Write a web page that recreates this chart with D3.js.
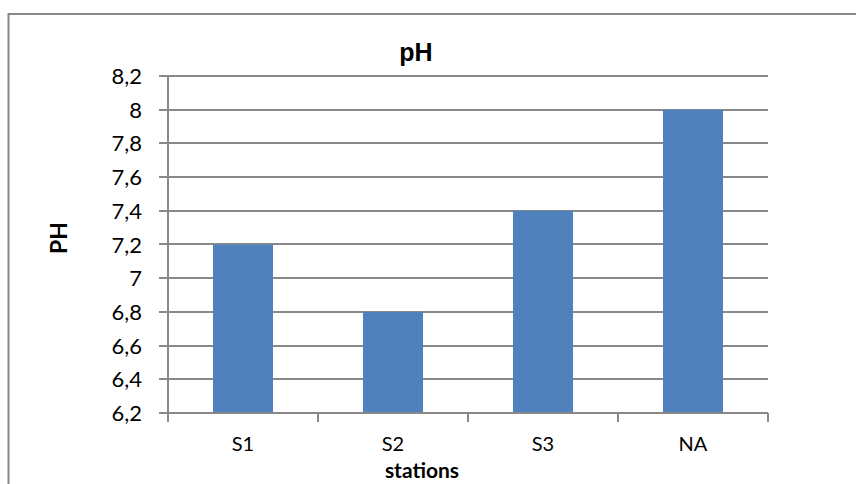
<!DOCTYPE html>
<html><head><meta charset="utf-8">
<script src="https://cdn.jsdelivr.net/npm/d3@7"></script>
<style>body{margin:0;background:#fff}svg{display:block}text{font-family:Lato,"Open Sans",sans-serif}</style>
</head><body><svg id="c" width="856" height="484"></svg>
<script>
const categories = ["S1","S2","S3","NA"];
const values = [7.2, 6.8, 7.4, 8.0];
const yTicks = [6.2,6.4,6.6,6.8,7,7.2,7.4,7.6,7.8,8,8.2];
const title = "pH", xTitle = "stations", yTitle = "PH";

const svg = d3.select("#c");
svg.append("rect").attr("x",8.5).attr("y",14).attr("width",900).attr("height",500)
  .attr("fill","#fff").attr("stroke","#878787").attr("stroke-width",2);

const L=168,R=768,T=76,B=413;
const x = d3.scaleBand().domain(categories).range([L,R]).paddingInner(0.6).paddingOuter(0.3);
const y = d3.scaleLinear().domain([6.2,8.2]).range([B,T]);
const fmt = d => String(+d.toFixed(1)).replace(".",",");

const grid = svg.append("g");
yTicks.forEach(t=>{
  grid.append("line").attr("x1",L-9).attr("x2",R).attr("y1",Math.round(y(t))).attr("y2",Math.round(y(t)))
   .attr("stroke","#888").attr("stroke-width",2);
});

svg.append("g").selectAll("rect").data(values).join("rect")
  .attr("x",(d,i)=>x(categories[i])).attr("width",x.bandwidth())
  .attr("y",d=>y(d)).attr("height",d=>B-y(d)).attr("fill","#4F81BD");

// axes
svg.append("line").attr("x1",L).attr("x2",L).attr("y1",T).attr("y2",B+1).attr("stroke","#888").attr("stroke-width",2);
svg.append("line").attr("x1",L).attr("x2",R).attr("y1",B).attr("y2",B).attr("stroke","#888").attr("stroke-width",2);
const step = (R-L)/categories.length;
d3.range(categories.length+1).forEach(i=>{
  svg.append("line").attr("x1",L+i*step).attr("x2",L+i*step).attr("y1",B).attr("y2",B+9).attr("stroke","#888").attr("stroke-width",2);
});

svg.append("g").selectAll("text").data(yTicks).join("text")
  .attr("x",142).attr("y",d=>y(d)+8).attr("text-anchor","end").attr("font-size",22).attr("fill","#000").text(fmt);

svg.append("g").selectAll("text").data(categories).join("text")
  .attr("x",d=>x(d)+x.bandwidth()/2).attr("y",451).attr("text-anchor","middle").attr("font-size",20).text(d=>d);

svg.append("text").attr("x",416).attr("y",61).attr("text-anchor","middle").attr("font-size",25)
  .attr("font-weight","bold").style("font-family","'Liberation Sans',Arial,sans-serif").text(title);
svg.append("text").attr("x",422).attr("y",478).attr("text-anchor","middle").attr("font-size",21).attr("font-weight","bold").text(xTitle);
svg.append("text").attr("transform","translate(67,238) rotate(-90)").attr("text-anchor","middle").attr("font-size",23).attr("font-weight","bold").text(yTitle);
</script></body></html>
